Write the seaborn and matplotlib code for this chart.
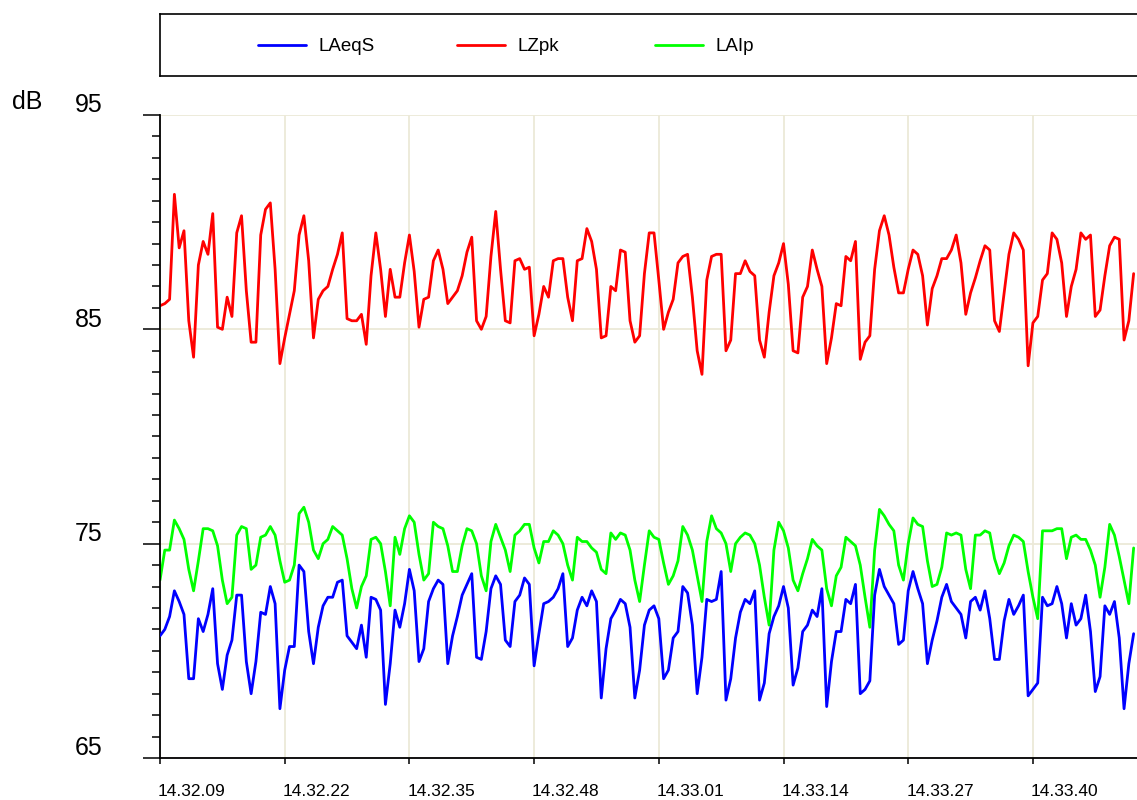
import numpy as np
import pandas as pd
import matplotlib
matplotlib.use("Agg")
import matplotlib.pyplot as plt
import seaborn as sns
from matplotlib.ticker import MultipleLocator, FixedLocator
from matplotlib.transforms import ScaledTranslation
from matplotlib.legend import Legend

# ---------------- data ----------------
tick_labels = ["14.32.09", "14.32.22", "14.32.35", "14.32.48",
               "14.33.01", "14.33.14", "14.33.27", "14.33.40"]
y_major = [65, 75, 85, 95]
sample_step = 0.5  # seconds between readings
view_end = 101.85  # seconds after first tick shown at the right edge

laeqs = [
    70.7, 71.0, 71.6, 72.8, 72.3, 71.7, 68.7, 68.7, 71.5, 70.9,
    71.7, 72.9, 69.4, 68.2, 69.8, 70.5, 72.6, 72.6, 69.5, 68.0,
    69.5, 71.8, 71.7, 73.0, 72.2, 67.3, 69.1, 70.2, 70.2, 74.0,
    73.7, 70.9, 69.4, 71.1, 72.1, 72.5, 72.5, 73.2, 73.3, 70.7,
    70.4, 70.1, 71.2, 69.7, 72.5, 72.4, 71.9, 67.5, 69.4, 71.9,
    71.1, 72.2, 73.8, 72.8, 69.5, 70.1, 72.3, 72.9, 73.3, 73.1,
    69.4, 70.7, 71.6, 72.6, 73.1, 73.6, 69.7, 69.6, 70.9, 72.9,
    73.5, 73.1, 70.5, 70.2, 72.3, 72.6, 73.4, 73.1, 69.3, 70.8,
    72.2, 72.3, 72.5, 72.9, 73.6, 70.2, 70.6, 71.9, 72.5, 72.1,
    72.8, 72.3, 67.8, 70.1, 71.5, 71.9, 72.4, 72.2, 71.1, 67.8,
    69.1, 71.2, 71.9, 72.1, 71.5, 68.7, 69.1, 70.6, 70.9, 73.0,
    72.7, 71.2, 68.0, 69.7, 72.4, 72.3, 72.4, 73.7, 67.7, 68.7,
    70.6, 71.8, 72.4, 72.2, 72.8, 67.7, 68.5, 70.8, 71.6, 72.1,
    73.0, 72.0, 68.4, 69.2, 70.9, 71.2, 71.9, 71.6, 72.9, 67.4,
    69.5, 70.9, 70.9, 72.4, 72.2, 73.1, 68.0, 68.2, 68.6, 72.6,
    73.8, 73.0, 72.6, 72.2, 70.3, 70.5, 72.8, 73.7, 72.9, 72.2,
    69.4, 70.5, 71.4, 72.5, 73.1, 72.3, 72.0, 71.7, 70.6, 72.3,
    72.5, 71.9, 72.8, 71.5, 69.6, 69.6, 71.4, 72.4, 71.7, 72.1,
    72.6, 67.9, 68.2, 68.5, 72.5, 72.1, 72.2, 73.0, 72.2, 70.6,
    72.2, 71.2, 71.5, 72.6, 70.9, 68.1, 68.8, 72.1, 71.7, 72.3,
    70.6, 67.3, 69.4, 70.8,
]

lzpk = [
    86.1, 86.2, 86.4, 91.3, 88.8, 89.6, 85.4, 83.7, 88.0, 89.1,
    88.5, 90.4, 85.1, 85.0, 86.5, 85.6, 89.5, 90.3, 86.8, 84.4,
    84.4, 89.4, 90.6, 90.9, 87.8, 83.4, 84.6, 85.7, 86.8, 89.4,
    90.3, 88.2, 84.6, 86.4, 86.8, 87.0, 87.8, 88.5, 89.5, 85.5,
    85.4, 85.4, 85.7, 84.3, 87.5, 89.5, 87.8, 85.6, 87.8, 86.5,
    86.5, 88.1, 89.4, 87.7, 85.1, 86.4, 86.5, 88.2, 88.7, 87.8,
    86.2, 86.5, 86.8, 87.5, 88.6, 89.3, 85.4, 85.0, 85.6, 88.4,
    90.5, 87.8, 85.4, 85.3, 88.2, 88.3, 87.8, 87.9, 84.7, 85.7,
    87.0, 86.5, 88.2, 88.3, 88.3, 86.5, 85.4, 88.2, 88.3, 89.7,
    89.1, 87.8, 84.6, 84.7, 87.0, 86.8, 88.7, 88.6, 85.4, 84.4,
    84.7, 87.6, 89.5, 89.5, 87.3, 85.0, 85.8, 86.4, 88.1, 88.4,
    88.5, 86.5, 84.0, 82.9, 87.3, 88.4, 88.5, 88.5, 84.0, 84.5,
    87.6, 87.6, 88.2, 87.7, 87.5, 84.5, 83.7, 85.8, 87.5, 88.1,
    89.0, 87.1, 84.0, 83.9, 86.5, 87.0, 88.7, 87.8, 87.0, 83.4,
    84.6, 86.2, 86.1, 88.4, 88.2, 89.1, 83.6, 84.4, 84.7, 87.8,
    89.6, 90.3, 89.4, 87.9, 86.7, 86.7, 87.8, 88.7, 88.5, 87.5,
    85.2, 86.9, 87.5, 88.3, 88.3, 88.7, 89.4, 88.1, 85.7, 86.7,
    87.4, 88.2, 88.9, 88.7, 85.4, 84.9, 86.7, 88.5, 89.5, 89.2,
    88.7, 83.3, 85.3, 85.6, 87.3, 87.6, 89.5, 89.2, 88.1, 85.6,
    87.0, 87.8, 89.5, 89.2, 89.4, 85.6, 85.9, 87.5, 88.9, 89.3,
    89.2, 84.5, 85.4, 87.6,
]

laip = [
    73.3, 74.7, 74.7, 76.1, 75.7, 75.2, 73.8, 72.8, 74.2, 75.7,
    75.7, 75.6, 74.9, 73.3, 72.2, 72.5, 75.4, 75.8, 75.7, 73.8,
    74.0, 75.3, 75.4, 75.8, 75.4, 74.2, 73.2, 73.3, 74.0, 76.4,
    76.7, 76.0, 74.7, 74.3, 75.0, 75.2, 75.8, 75.6, 75.4, 74.3,
    72.9, 72.0, 73.0, 73.5, 75.2, 75.3, 75.0, 73.7, 72.1, 75.3,
    74.5, 75.7, 76.3, 76.0, 74.5, 73.3, 73.6, 76.0, 75.8, 75.7,
    74.9, 73.7, 73.7, 74.9, 75.7, 75.6, 75.0, 73.5, 72.8, 75.1,
    75.9, 75.3, 74.7, 73.7, 75.4, 75.6, 75.9, 75.9, 74.8, 74.1,
    75.1, 75.1, 75.6, 75.4, 75.0, 74.0, 73.3, 75.3, 75.1, 75.1,
    74.8, 74.6, 73.8, 73.6, 75.5, 75.2, 75.5, 75.4, 74.7, 73.3,
    72.3, 74.0, 75.6, 75.3, 75.2, 74.1, 73.1, 73.5, 74.2, 75.8,
    75.4, 74.7, 73.5, 72.3, 75.1, 76.3, 75.7, 75.5, 75.0, 73.7,
    75.0, 75.3, 75.5, 75.4, 75.0, 74.0, 72.5, 71.2, 74.7, 76.0,
    75.6, 74.8, 73.3, 72.8, 73.6, 74.3, 75.2, 74.9, 74.7, 72.9,
    72.1, 73.5, 73.9, 75.3, 75.1, 74.9, 74.0, 72.5, 71.1, 74.7,
    76.6, 76.3, 75.9, 75.6, 74.0, 73.3, 75.0, 76.2, 75.9, 75.8,
    74.2, 73.0, 73.1, 73.9, 75.5, 75.4, 75.5, 75.4, 73.8, 72.9,
    75.4, 75.4, 75.6, 75.5, 74.3, 73.6, 74.1, 74.9, 75.4, 75.3,
    75.1, 73.7, 72.5, 71.5, 75.6, 75.6, 75.6, 75.7, 75.7, 74.3,
    75.3, 75.4, 75.2, 75.2, 74.7, 74.0, 72.5, 73.9, 75.9, 75.4,
    74.4, 73.3, 72.2, 74.8,
]

series_names = ["LAeqS", "LZpk", "LAIp"]
series_colors = {"LAeqS": "#0000FF", "LZpk": "#FF0000", "LAIp": "#00FF00"}

# ---------------- build table ----------------
def to_seconds(lbl):
    h, m, s = (int(v) for v in lbl.split("."))
    return h * 3600 + m * 60 + s

t0 = to_seconds(tick_labels[0])
tick_pos = [to_seconds(l) - t0 for l in tick_labels]

n = min(len(laeqs), len(lzpk), len(laip))
t = np.arange(n) * sample_step
df = pd.DataFrame({
    "t": np.concatenate([t, t, t]),
    "dB": np.concatenate([laeqs[:n], lzpk[:n], laip[:n]]),
    "series": np.repeat(series_names, n),
})

# ---------------- style ----------------
sns.set_style("white")
plt.rcParams["font.family"] = ["Liberation Sans", "DejaVu Sans"]
plt.rcParams["text.color"] = "black"
plt.rcParams["xtick.color"] = "black"
plt.rcParams["ytick.color"] = "black"
plt.rcParams["axes.labelcolor"] = "black"

W, H = 1137, 800
fig = plt.figure(figsize=(W / 100, H / 100), dpi=100)
fig.patch.set_facecolor("white")

ax = fig.add_axes([160 / W, (H - 758) / H, (W - 160) / W, (758 - 115) / H])

grid_color = "#ECE9D8"
zorders = {"LAIp": 2, "LZpk": 2, "LAeqS": 3}
draw_order = ["LAIp", "LZpk", "LAeqS"]
for name in draw_order:
    sns.lineplot(data=df[df["series"] == name], x="t", y="dB",
                 color=series_colors[name], lw=2.0, ax=ax,
                 estimator=None, legend=False, zorder=zorders[name])

handles = {}
for line, name in zip(ax.lines, draw_order):
    handles[name] = line

ax.set_xlim(0, view_end)
ax.set_ylim(y_major[0], y_major[-1])
ax.set_xlabel("")
ax.set_ylabel("")

ax.xaxis.set_major_locator(FixedLocator(tick_pos))
ax.set_xticklabels(tick_labels)
ax.yaxis.set_major_locator(FixedLocator(y_major))
ax.yaxis.set_minor_locator(MultipleLocator(1))
ax.set_yticklabels([str(v) for v in y_major])

ax.grid(True, which="major", color=grid_color, lw=1.3, zorder=0)
ax.set_axisbelow(True)

for s in ["top", "right"]:
    ax.spines[s].set_visible(False)
for s in ["left", "bottom"]:
    ax.spines[s].set_color("black")
    ax.spines[s].set_linewidth(1.3)

ax.tick_params(axis="y", which="both", left=True, right=False)
ax.tick_params(axis="x", which="both", bottom=True, top=False)
ax.tick_params(axis="y", which="major", direction="out", length=12.5,
               width=1.1, color="black", labelcolor="black",
               labelsize=18, pad=29)
ax.tick_params(axis="y", which="minor", direction="out", length=6.0,
               width=1.1, color="black")
ax.tick_params(axis="x", which="major", direction="out", length=4.5,
               width=1.1, color="black", labelcolor="black",
               labelsize=12.5, pad=14)

for lab in ax.get_xticklabels():
    lab.set_horizontalalignment("left")
    lab.set_transform(lab.get_transform() +
                      ScaledTranslation(-2 / 100, 0, fig.dpi_scale_trans))
for lab in ax.get_yticklabels():
    lab.set_transform(lab.get_transform() +
                      ScaledTranslation(0, 12 / 100, fig.dpi_scale_trans))

fig.text(12 / W, 1 - 102 / H, "dB", fontsize=18, ha="left", va="center",
         color="black")

# ---------------- legend box ----------------
lax = fig.add_axes([160 / W, 1 - 76 / H, (W - 160) / W, (76 - 14) / H])
lax.set_xticks([])
lax.set_yticks([])
lax.set_facecolor("white")
for s in ["top", "left", "bottom"]:
    lax.spines[s].set_color("black")
    lax.spines[s].set_linewidth(1.2)
lax.spines["right"].set_visible(False)

entry_x = {"LAeqS": (258 - 160) / (W - 160),
           "LZpk": (457 - 160) / (W - 160),
           "LAIp": (655 - 160) / (W - 160)}
for name in series_names:
    leg = Legend(lax, [handles[name]], [name], loc="center left",
                 bbox_to_anchor=(entry_x[name], 0.47),
                 frameon=False, fontsize=13.5, borderpad=0,
                 borderaxespad=0, handlelength=2.55, handletextpad=0.7,
                 labelcolor="black")
    lax.add_artist(leg)

fig.savefig("out.png", dpi=100, facecolor="white")
